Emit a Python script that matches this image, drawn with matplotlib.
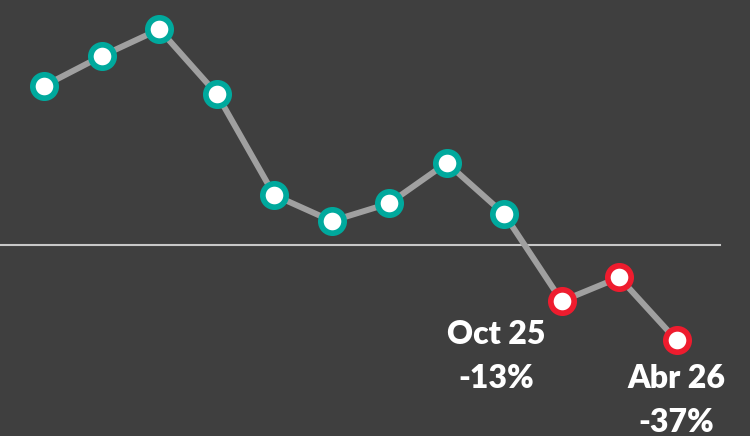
import matplotlib
matplotlib.use("Agg")
import matplotlib.pyplot as plt

# index values, zero = reference line
values = [37.0, 43.9, 50.1, 35.1, 11.6, 5.6, 9.7, 19.1, 7.2, -13.0, -7.5, -22.1]
forecast_from = 9  # points from here on are drawn red
callouts = {9: ("Oct 25", "-13%"), 11: ("Abr 26", "-37%")}

bg = "#3f3f3f"
teal = "#00a99d"
red = "#ee1c2e"
line_color = "#a0a0a0"

plt.rcParams["font.family"] = ["Lato", "DejaVu Sans"]

fig = plt.figure(figsize=(7.5, 4.36), dpi=100, facecolor=bg)
ax = fig.add_axes([0, 0, 1, 1])
ax.set_facecolor(bg)

x = list(range(len(values)))
ax.axhline(0, xmin=0, xmax=(11.75 + 0.771) / (12.275 + 0.771), color="#c8c8c8", lw=1.5, zorder=1)
ax.plot(x, values, color=line_color, lw=4.3, zorder=2, solid_capstyle="round")

edge = [teal if i < forecast_from else red for i in x]
for xi, v, c in zip(x, values, edge):
    ax.plot(xi, v, "o", ms=16.8, mew=4.1, mfc="white", mec=c, zorder=3)

# label placement (offsets in data units)
for i, (lab, pct) in callouts.items():
    dx = -1.14 if i == 9 else 0
    y_off = -7.7 if i == 9 else -8.8
    ax.text(i + dx, values[i] + y_off, lab, color="white", fontsize=23, fontweight="heavy",
            ha="center", va="center")
    ax.text(i + dx, values[i] + y_off - 10.3, pct, color="white", fontsize=23, fontweight="heavy",
            ha="center", va="center")

ax.set_xlim(-0.771, 12.275)
ax.set_ylim(-44.3, 56.9)
ax.axis("off")

fig.savefig("out.png", dpi=100, facecolor=bg)
